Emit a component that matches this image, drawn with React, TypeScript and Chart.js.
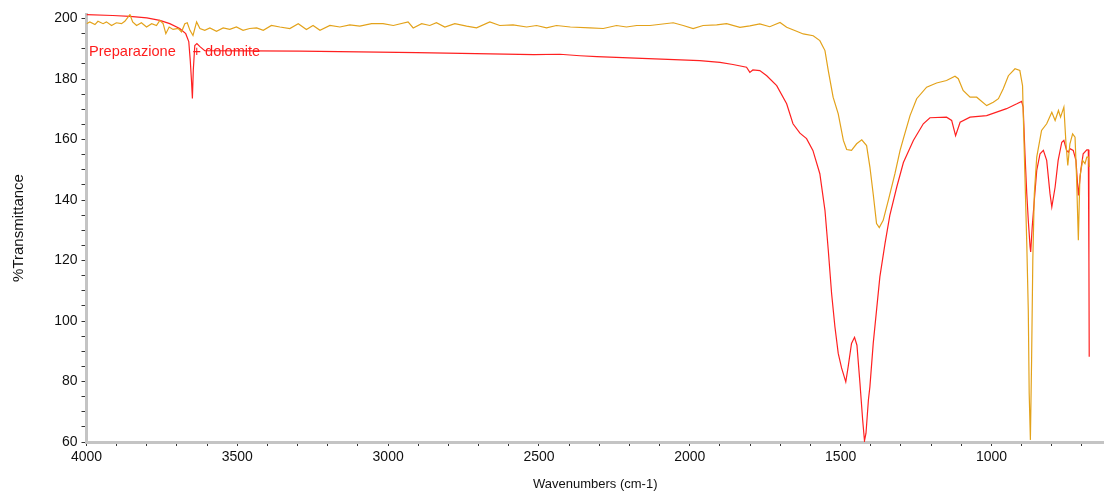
import React, { useEffect, useRef } from 'react';
import { Chart, registerables } from 'chart.js';

Chart.register(...registerables);

// Preparazione + dolomite (red)
const redWavenumbers = [4000,3913,3856,3800,3757,3724,3691,3671,3661,3656,3652,3649,3646,3641,3634,3624,3608,3293,3097,2905,2709,2517,2431,2364,2308,2159,2073,1967,1900,1857,1812,1801,1791,1768,1745,1712,1679,1658,1635,1613,1592,1569,1552,1541,1530,1519,1508,1497,1483,1475,1464,1454,1446,1436,1427,1421,1416,1408,1403,1392,1381,1370,1353,1337,1314,1292,1259,1226,1204,1149,1132,1119,1104,1071,1016,950,916,900,895,889,883,878,872,870,865,858,850,839,828,817,806,800,789,779,767,760,751,745,740,729,720,712,704,696,684,679,677,676];
const redTransmittance = [201.3,201.0,200.7,200.2,199.4,198.3,196.7,195.0,192.4,186.1,179.5,173.6,182.9,191.1,191.7,190.7,189.4,189.2,189.0,188.7,188.4,188.1,188.2,187.7,187.4,186.8,186.5,186.1,185.5,184.8,183.9,182.2,183.0,182.8,181.1,177.8,171.8,165.2,162.1,160.3,156.4,148.7,136.6,123.4,109.1,98.1,89.3,84.5,79.9,84.9,92.6,94.6,92.0,79.4,67.3,60.4,62.9,73.9,78.3,92.6,103.6,114.6,125.6,134.9,144.3,152.4,159.7,165.2,167.2,167.4,166.3,161.3,165.7,167.4,167.9,170.2,171.8,172.6,170.7,155.3,142.1,133.3,124.5,122.8,131.1,139.9,149.8,155.3,156.4,153.1,142.1,137.7,144.3,153.1,159.1,159.7,156.4,155.8,157.0,156.4,153.1,141.5,149.8,155.3,156.6,156.6,120.1,88.2];

// second spectrum (orange)
const orangeWavenumbers = [4000,3989,3972,3962,3945,3934,3917,3901,3884,3873,3856,3847,3834,3818,3801,3784,3768,3757,3746,3737,3726,3713,3696,3685,3674,3666,3657,3647,3635,3624,3608,3591,3569,3547,3525,3503,3481,3459,3436,3414,3387,3359,3326,3298,3271,3249,3226,3193,3160,3127,3094,3055,3017,2983,2934,2917,2889,2862,2840,2812,2779,2740,2707,2663,2630,2586,2541,2508,2475,2442,2396,2331,2287,2243,2210,2176,2132,2055,2022,1989,1956,1911,1878,1834,1801,1768,1735,1701,1679,1646,1624,1591,1569,1552,1541,1525,1508,1491,1480,1464,1447,1430,1414,1403,1392,1381,1372,1359,1342,1320,1303,1292,1270,1248,1215,1182,1149,1121,1110,1094,1071,1049,1016,994,977,961,944,922,906,897,895,889,883,878,875,871,867,863,858,850,834,817,800,789,778,771,760,753,747,740,731,723,718,712,707,698,690,684,678,676];
const orangeTransmittance = [198.3,198.9,198.0,199.1,198.3,198.9,197.7,198.6,198.3,199.1,201.3,198.9,197.7,198.6,197.2,198.3,197.7,199.4,198.3,195.0,197.2,196.4,196.7,195.6,198.3,198.6,196.1,194.4,198.9,196.7,196.1,196.9,195.8,196.9,196.4,197.2,196.1,196.7,196.9,196.1,197.7,197.2,196.7,198.3,196.4,197.7,196.1,197.7,197.2,197.9,197.5,198.3,198.3,197.7,198.9,196.9,198.3,197.7,198.6,197.2,198.3,197.5,196.9,198.9,197.7,197.9,197.2,197.7,196.9,197.7,197.2,196.9,196.7,197.7,197.2,197.7,197.7,198.6,197.7,196.7,197.7,197.9,198.3,197.1,197.6,198.2,197.3,198.7,197.1,195.8,194.9,194.3,192.7,189.4,182.8,174.0,168.5,159.7,156.7,156.4,158.6,159.9,158.0,150.9,141.9,132.2,130.9,133.3,139.9,148.7,156.4,160.3,167.9,173.5,177.3,178.7,179.5,180.9,180.1,176.2,174.0,174.0,171.2,172.3,173.5,176.8,181.1,183.4,182.8,177.8,169.6,147.6,125.6,103.6,76.1,60.7,87.1,120.1,142.1,154.2,163.0,165.2,169.0,166.3,169.6,167.4,170.7,158.6,151.4,158.6,161.9,160.8,147.6,126.7,147.6,153.1,152.0,154.2,154.2,150.9];

// axis ticks
const xTickValues = [4000,3900,3800,3700,3600,3500,3400,3300,3200,3100,3000,2900,2800,2700,2600,2500,2400,2300,2200,2100,2000,1900,1800,1700,1600,1500,1400,1300,1200,1100,1000,900,800,700];
const xTickLabels = [4000,3500,3000,2500,2000,1500,1000];
const yTickValues = [60,65,70,75,80,85,90,95,100,105,110,115,120,125,130,135,140,145,150,155,160,165,170,175,180,185,190,195,200];
const yTickLabels = [60,80,100,120,140,160,180,200];

const sampleTitleParts = ['Preparazione', '+ dolomite'];

const FONT = '"Liberation Sans", Arial, sans-serif';

const titlePlugin = {
  id: 'sampleTitle',
  afterDatasetsDraw(chart: any) {
    const { ctx, chartArea } = chart;
    ctx.save();
    ctx.font = `14.6px ${FONT}`;
    ctx.fillStyle = '#ff1c1c';
    ctx.textBaseline = 'middle';
    ctx.textAlign = 'left';
    ctx.fillText(sampleTitleParts[0], chartArea.left + 2.5, 52);
    ctx.fillText(sampleTitleParts[1], chartArea.left + 106, 52);
    ctx.restore();
  },
};

export default function App() {
  const canvasRef = useRef<HTMLCanvasElement | null>(null);

  useEffect(() => {
    const canvas = canvasRef.current;
    if (!canvas) return;
    const redPoints = redWavenumbers.map((x, i) => ({ x, y: redTransmittance[i] }));
    const orangePoints = orangeWavenumbers.map((x, i) => ({ x, y: orangeTransmittance[i] }));

    const chart = new Chart(canvas, {
      type: 'line',
      data: {
        datasets: [
          {
            label: 'Reference',
            data: orangePoints,
            borderColor: '#e3a21a',
            borderWidth: 1.2,
            pointRadius: 0,
            tension: 0,
            fill: false,
          },
          {
            label: 'Preparazione + dolomite',
            data: redPoints,
            borderColor: '#ff2020',
            borderWidth: 1.2,
            pointRadius: 0,
            tension: 0,
            fill: false,
          },
        ],
      },
      options: {
        responsive: false,
        animation: false,
        layout: { padding: { top: 14, left: 0, right: 0, bottom: 0 } },
        plugins: {
          legend: { display: false },
          tooltip: { enabled: false },
          title: { display: false },
        },
        scales: {
          x: {
            type: 'linear',
            reverse: true,
            min: 627,
            max: 4000,
            afterBuildTicks: (scale: any) => {
              scale.ticks = xTickValues.map((v) => ({ value: v }));
            },
            afterFit: (scale: any) => {
              scale.height = 53;
            },
            ticks: {
              autoSkip: false,
              maxRotation: 0,
              minRotation: 0,
              padding: 3,
              color: '#111',
              font: { family: FONT, size: 14 },
              callback: (value: any) => (xTickLabels.includes(Number(value)) ? String(value) : ''),
            },
            grid: {
              drawOnChartArea: false,
              tickLength: 4,
              tickColor: '#333',
              color: '#333',
            },
            border: { color: '#c4c4c4', width: 3 },
            title: {
              display: true,
              text: 'Wavenumbers (cm-1)',
              color: '#111',
              font: { family: FONT, size: 13 },
              padding: { top: 0, bottom: 3 },
            },
          },
          y: {
            type: 'linear',
            min: 60,
            max: 201.5,
            afterBuildTicks: (scale: any) => {
              scale.ticks = yTickValues.map((v) => ({ value: v }));
            },
            afterFit: (scale: any) => {
              scale.width = 86.5;
            },
            ticks: {
              autoSkip: false,
              padding: 4,
              color: '#111',
              font: { family: FONT, size: 14 },
              callback: (value: any) => (yTickLabels.includes(Number(value)) ? String(value) : ''),
            },
            grid: {
              drawOnChartArea: false,
              tickLength: 5,
              tickColor: '#333',
              color: '#333',
            },
            border: { color: '#c4c4c4', width: 3 },
            title: {
              display: true,
              text: '%Transmittance',
              color: '#111',
              font: { family: FONT, size: 15 },
              padding: { top: 10, bottom: 0 },
            },
          },
        },
      },
      plugins: [titlePlugin],
    } as any);

    return () => {
      chart.destroy();
    };
  }, []);

  return (
    <div style={{ position: 'absolute', left: 0, top: 0, width: 1104, height: 495, background: '#fff' }}>
      <canvas ref={canvasRef} width={1104} height={495} style={{ display: 'block' }} />
    </div>
  );
}
